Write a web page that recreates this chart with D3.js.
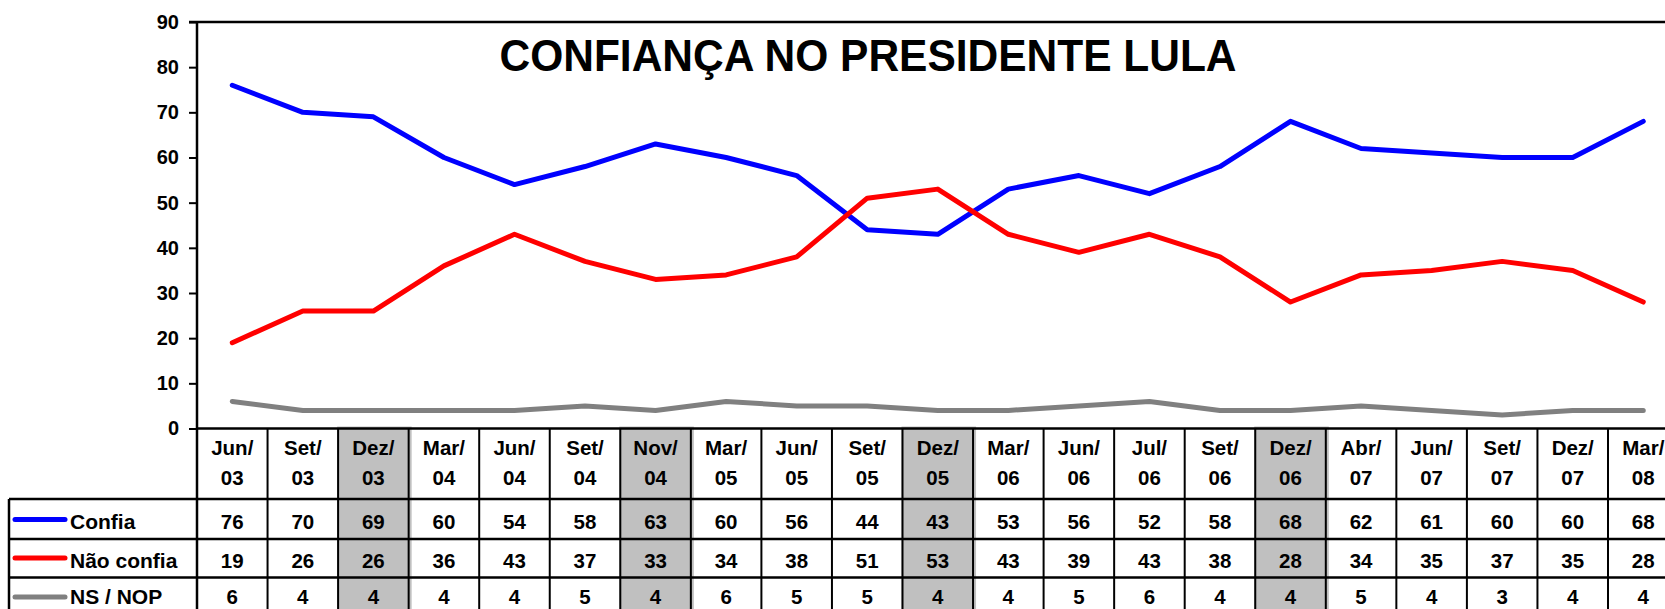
<!DOCTYPE html>
<html>
<head>
<meta charset="utf-8">
<script src="https://cdn.jsdelivr.net/npm/d3@7"></script>
<style>
  html, body { margin: 0; padding: 0; background: #fff; }
  svg { display: block; }
  text { font-family: "Liberation Sans", Arial, sans-serif; font-weight: bold; fill: #000; }
</style>
</head>
<body>
<svg id="chart" width="1665" height="609"></svg>
<script>
const categories = ["Jun/03","Set/03","Dez/03","Mar/04","Jun/04","Set/04","Nov/04","Mar/05","Jun/05","Set/05","Dez/05","Mar/06","Jun/06","Jul/06","Set/06","Dez/06","Abr/07","Jun/07","Set/07","Dez/07","Mar/08"];
const confia    = [76,70,69,60,54,58,63,60,56,44,43,53,56,52,58,68,62,61,60,60,68];
const naoConfia = [19,26,26,36,43,37,33,34,38,51,53,43,39,43,38,28,34,35,37,35,28];
const nsNop     = [6,4,4,4,4,5,4,6,5,5,4,4,5,6,4,4,5,4,3,4,4];
const highlighted = ["Dez/03","Nov/04","Dez/05","Dez/06"];
const yTicks = [0,10,20,30,40,50,60,70,80,90];
const title = "CONFIANÇA NO PRESIDENTE LULA";

const series = [
  {name: "Confia", values: confia, color: "#0000ff"},
  {name: "Não confia", values: naoConfia, color: "#ff0000"},
  {name: "NS / NOP", values: nsNop, color: "#808080"}
];

const svg = d3.select("#chart");
const left = 197, step = 70.55;
const x = d3.scaleBand().domain(categories).range([left, left + step * categories.length]).paddingInner(0).paddingOuter(0);
const y = d3.scaleLinear().domain([0, 90]).range([428.5, 22]);

// table geometry
const headerTop = 428.5, headerBottom = 499;
const rowTops = [499, 539, 577.5];
const rowBottom = 616;
const rowBaselines = [529, 568, 604];
const legendY = [519.5, 558, 597];
const legendLeft = 9;

// gray highlighted columns
svg.append("g").selectAll("rect")
  .data(highlighted)
  .join("rect")
  .attr("x", d => x(d) - 1)
  .attr("y", headerTop - 2)
  .attr("width", x.bandwidth() + 4)
  .attr("height", rowBottom - headerTop + 2)
  .attr("fill", "#c0c0c0");

// Title
svg.append("text")
  .attr("x", 868).attr("y", 71)
  .attr("text-anchor", "middle")
  .attr("font-size", 45)
  .attr("textLength", 737)
  .attr("lengthAdjust", "spacingAndGlyphs")
  .text(title);

// Y axis
const yAxis = d3.axisLeft(y).tickValues(yTicks).tickSize(8).tickPadding(10).tickFormat(d3.format("d"));
const gy = svg.append("g").attr("transform", `translate(${left},0)`).call(yAxis);
gy.select(".domain").remove();
gy.selectAll(".tick line").attr("stroke", "#000").attr("stroke-width", 2);
gy.selectAll(".tick text").attr("font-size", 20).attr("font-family", "Liberation Sans, Arial, sans-serif").attr("font-weight", "bold").attr("fill", "#000");

// Plot frame: left axis line and top line
svg.append("line").attr("x1", left).attr("x2", left).attr("y1", y(90)).attr("y2", rowBottom).attr("stroke", "#000").attr("stroke-width", 2.5);
svg.append("line").attr("x1", left - 8).attr("x2", 1665).attr("y1", y(90)).attr("y2", y(90)).attr("stroke", "#000").attr("stroke-width", 2.5);

// Lines
const line = d3.line().x((d, i) => x(categories[i]) + x.bandwidth() / 2).y(d => y(d));
svg.append("g").selectAll("path")
  .data(series)
  .join("path")
  .attr("d", d => line(d.values))
  .attr("fill", "none")
  .attr("stroke", d => d.color)
  .attr("stroke-width", 5)
  .attr("stroke-linejoin", "round")
  .attr("stroke-linecap", "round");

// Table horizontal lines
const hLines = [
  {x1: left, y: headerTop},
  {x1: legendLeft, y: headerBottom},
  {x1: legendLeft, y: rowTops[1]},
  {x1: legendLeft, y: rowTops[2]}
];
svg.append("g").selectAll("line")
  .data(hLines)
  .join("line")
  .attr("x1", d => d.x1).attr("x2", 1665)
  .attr("y1", d => d.y).attr("y2", d => d.y)
  .attr("stroke", "#000").attr("stroke-width", 2.5);

// Table vertical lines (column boundaries)
svg.append("g").selectAll("line")
  .data(categories.slice(1))
  .join("line")
  .attr("x1", d => x(d)).attr("x2", d => x(d))
  .attr("y1", headerTop).attr("y2", rowBottom)
  .attr("stroke", "#000").attr("stroke-width", 2);
svg.append("line").attr("x1", legendLeft).attr("x2", legendLeft).attr("y1", headerBottom).attr("y2", rowBottom).attr("stroke", "#000").attr("stroke-width", 2.5);

// Header labels
const hdr = svg.append("g").selectAll("text")
  .data(categories)
  .join("text")
  .attr("text-anchor", "middle")
  .attr("font-size", 20.5);
hdr.append("tspan").attr("x", d => x(d) + x.bandwidth() / 2).attr("y", 455).text(d => d.split("/")[0] + "/");
hdr.append("tspan").attr("x", d => x(d) + x.bandwidth() / 2).attr("y", 485).text(d => d.split("/")[1]);

// Rows
series.forEach((s, r) => {
  const base = rowBaselines[r];
  const g = svg.append("g");
  g.append("line").attr("x1", 15).attr("x2", 65).attr("y1", legendY[r]).attr("y2", legendY[r])
    .attr("stroke", s.color).attr("stroke-width", 5).attr("stroke-linecap", "round");
  g.append("text").attr("x", 70).attr("y", base).attr("font-size", 21).text(s.name);
  g.selectAll("text.v")
    .data(s.values)
    .join("text")
    .attr("class", "v")
    .attr("x", (d, i) => x(categories[i]) + x.bandwidth() / 2)
    .attr("y", base)
    .attr("text-anchor", "middle")
    .attr("font-size", 20.5)
    .text(d => d);
});
</script>
</body>
</html>
